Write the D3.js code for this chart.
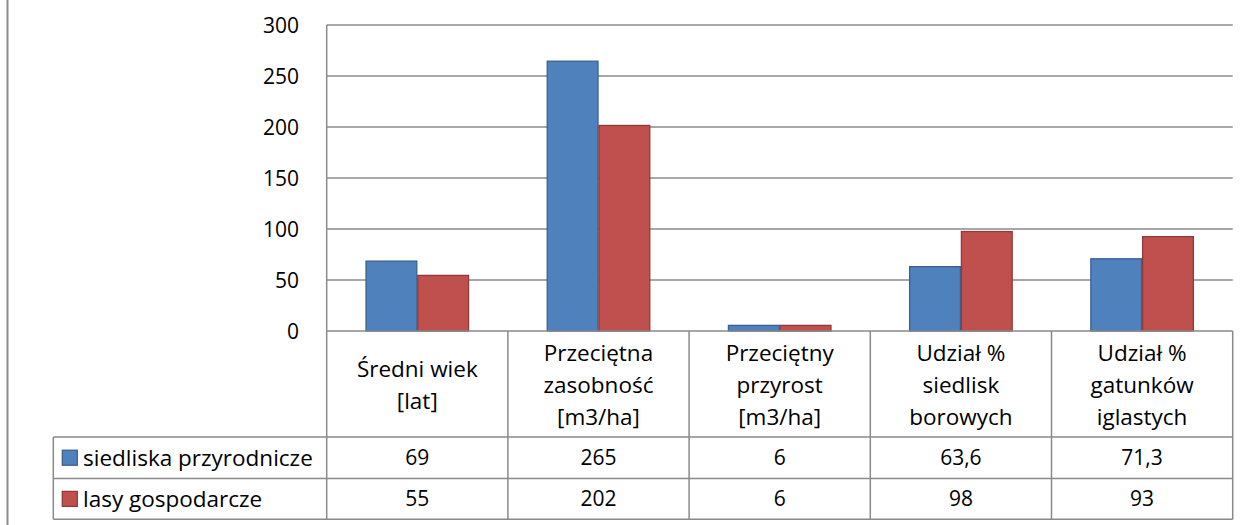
<!DOCTYPE html>
<html><head><meta charset="utf-8">
<script src="https://cdn.jsdelivr.net/npm/d3@7"></script>
<style>
html,body{margin:0;padding:0;background:#fff;}
svg{display:block;}
text{font-family:"Open Sans",Lato,sans-serif;fill:#000;}
</style></head>
<body>
<svg id="c" width="1251" height="525"></svg>
<script>
const categories = [
  ["Średni wiek","[lat]"],
  ["Przeciętna","zasobność","[m3/ha]"],
  ["Przeciętny","przyrost","[m3/ha]"],
  ["Udział %","siedlisk","borowych"],
  ["Udział %","gatunków","iglastych"]
];
const seriesNames = ["siedliska przyrodnicze","lasy gospodarcze"];
const siedliska = [69,265,6,63.6,71.3];
const lasy = [55,202,6,98,93];
const yTicks = [0,50,100,150,200,250,300];
const fills = ["#4f81bd","#c0504d"];
const strokes = ["#3b628f","#8e3b39"];

const svg = d3.select("#c");
const L = 326.7, R = 1232.7, Y0 = 331, Y300 = 25;
const rowTop1 = 437, rowTop2 = 478.5, rowBot = 519.3, legL = 53.3;
const grid = "#8a8a8a";
const fmt = v => String(v).replace(".", ",");
const fsNum = 21, fsTxt = 22.5;

const keys = categories.map((c,i)=>i);
const x = d3.scaleBand().domain(keys).range([L,R]).paddingInner(0).paddingOuter(0);
const x1 = d3.scaleBand().domain([0,1]).range([0,x.bandwidth()]).paddingInner(0).paddingOuter(0.75);
const y = d3.scaleLinear().domain([0,300]).range([Y0,Y300]);
const series = [siedliska, lasy];

// page left border
svg.append("line").attr("x1",7.5).attr("x2",7.5).attr("y1",0).attr("y2",525)
  .attr("stroke","#8c8c8c").attr("stroke-width",2);

// gridlines
svg.append("g").selectAll("line").data(yTicks.filter(t=>t>0)).join("line")
  .attr("x1",L).attr("x2",R).attr("y1",d=>y(d)).attr("y2",d=>y(d))
  .attr("stroke",grid).attr("stroke-width",1.5);

// y axis labels
svg.append("g").selectAll("text").data(yTicks).join("text")
  .attr("x",299).attr("y",d=>y(d)).attr("dy","0.36em").attr("text-anchor","end")
  .attr("font-size",fsNum).text(d=>d);

// bars
series.forEach((vals,si)=>{
  svg.append("g").selectAll("rect").data(vals).join("rect")
    .attr("x",(d,i)=>x(i)+x1(si)+0.5).attr("width",x1.bandwidth()-1)
    .attr("y",d=>y(d)+0.5).attr("height",d=>Y0-y(d)-0.5)
    .attr("fill",fills[si]).attr("stroke",strokes[si]).attr("stroke-width",1.3);
});

// table lines
const tg = svg.append("g").attr("stroke",grid).attr("stroke-width",1.5);
tg.append("line").attr("x1",L).attr("x2",L).attr("y1",Y300).attr("y2",rowBot);
tg.append("line").attr("x1",L).attr("x2",R).attr("y1",Y0).attr("y2",Y0);
keys.forEach(i=>{
  tg.append("line").attr("x1",x(i)+x.bandwidth()).attr("x2",x(i)+x.bandwidth())
    .attr("y1",Y0).attr("y2",rowBot);
});
[rowTop1,rowTop2,rowBot].forEach(yy=>{
  tg.append("line").attr("x1",legL).attr("x2",R).attr("y1",yy).attr("y2",yy);
});
tg.append("line").attr("x1",legL).attr("x2",legL).attr("y1",rowTop1).attr("y2",rowBot);

// category labels
const lh = 32, hc = (Y0+rowTop1)/2 + 1;
categories.forEach((lines,i)=>{
  const t = svg.append("text").attr("text-anchor","middle").attr("font-size",fsTxt);
  const start = hc - (lines.length-1)*lh/2;
  lines.forEach((ln,j)=>{
    t.append("tspan").attr("x",x(i)+x.bandwidth()/2).attr("y",start+j*lh).attr("dy","0.36em").text(ln);
  });
});

// data rows
const rowsY = [(rowTop1+rowTop2)/2, (rowTop2+rowBot)/2];
series.forEach((vals,si)=>{
  svg.append("rect").attr("x",62.3).attr("y",rowsY[si]-7.5).attr("width",15).attr("height",15)
    .attr("fill",fills[si]).attr("stroke",strokes[si]).attr("stroke-width",1.3);
  svg.append("text").attr("x",83).attr("y",rowsY[si]).attr("dy","0.36em")
    .attr("font-size",fsTxt).text(seriesNames[si]);
  svg.append("g").selectAll("text").data(vals).join("text")
    .attr("x",(d,i)=>x(i)+x.bandwidth()/2).attr("y",rowsY[si]).attr("dy","0.36em")
    .attr("text-anchor","middle").attr("font-size",fsNum).text(d=>fmt(d));
});
</script>
</body></html>
